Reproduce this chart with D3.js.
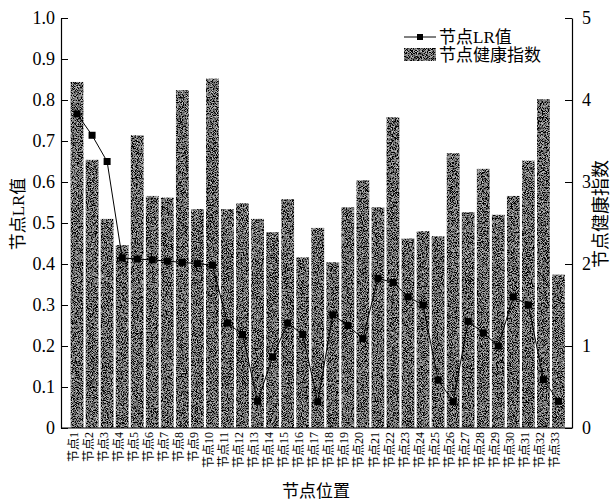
<!DOCTYPE html>
<html>
<head>
<meta charset="utf-8">
<script src="https://cdn.jsdelivr.net/npm/d3@7"></script>
<style>
  html, body { margin: 0; padding: 0; background: #fff; }
  svg { display: block; }
  .lat { font-family: "Liberation Serif", "Noto Sans CJK SC", serif; }
</style>
</head>
<body>
<script>
// Node positions 1..33
const nodes = d3.range(1, 34);
const nodeLabels = nodes.map(n => "节点" + n);

// LR value per node (left axis)
const lrValues = [0.766, 0.714, 0.650, 0.415, 0.412, 0.410, 0.407, 0.404, 0.401, 0.397,
                  0.256, 0.228, 0.065, 0.173, 0.256, 0.228, 0.064, 0.276, 0.250, 0.218,
                  0.365, 0.355, 0.320, 0.300, 0.117, 0.064, 0.260, 0.232, 0.200, 0.320,
                  0.300, 0.118, 0.065];

// Health index per node (right axis)
const healthValues = [4.22, 3.27, 2.55, 2.23, 3.57, 2.83, 2.81, 4.12, 2.67, 4.26,
                      2.67, 2.74, 2.55, 2.39, 2.79, 2.08, 2.44, 2.02, 2.69, 3.02,
                      2.69, 3.79, 2.31, 2.40, 2.34, 3.35, 2.63, 3.16, 2.60, 2.83,
                      3.26, 4.01, 1.87];

const leftTicks = [0, 0.1, 0.2, 0.3, 0.4, 0.5, 0.6, 0.7, 0.8, 0.9, 1.0];
const rightTicks = [0, 1, 2, 3, 4, 5];

const W = 613, H = 502;
const plot = { left: 61, right: 572, top: 18, bottom: 428 };

const svg = d3.select("body").append("svg")
  .attr("width", W).attr("height", H);

// Grainy fill used for the bars and the legend swatch
const defs = svg.append("defs");
const grain = defs.append("filter").attr("id", "grain")
  .attr("x", 0).attr("y", 0).attr("width", 1).attr("height", 1);
grain.append("feTurbulence").attr("type", "fractalNoise")
  .attr("baseFrequency", 1.2).attr("numOctaves", 1).attr("seed", 7).attr("result", "noise");
grain.append("feColorMatrix").attr("in", "noise").attr("type", "matrix")
  .attr("values", "1.9 0 0 0 -0.8  1.9 0 0 0 -0.8  1.9 0 0 0 -0.8  0 0 0 0 1")
  .attr("result", "tone");
grain.append("feComposite").attr("in", "tone").attr("in2", "SourceGraphic").attr("operator", "in");

const x = d3.scaleBand().domain(nodes).range([69.5, 566])
  .paddingInner(0.15).paddingOuter(0.075);
const yL = d3.scaleLinear().domain([0, 1]).range([plot.bottom, plot.top]);
const yR = d3.scaleLinear().domain([0, 5]).range([plot.bottom, plot.top]);

// Bars: health index
svg.append("g").attr("filter", "url(#grain)")
  .selectAll("rect").data(healthValues).join("rect")
  .attr("x", (d, i) => x(nodes[i]))
  .attr("width", x.bandwidth())
  .attr("y", d => yR(d))
  .attr("height", d => yR(0) - yR(d))
  .attr("fill", "#333");

// Left axis (ticks pointing inward)
const fmtL = d => d === 0 ? "0" : d3.format(".1f")(d);
const gL = svg.append("g").attr("transform", `translate(${plot.left},0)`)
  .call(d3.axisLeft(yL).tickValues(leftTicks).tickFormat(fmtL)
    .tickSizeInner(-7).tickSizeOuter(0).tickPadding(6));
// Right axis (ticks pointing inward)
const gR = svg.append("g").attr("transform", `translate(${plot.right},0)`)
  .call(d3.axisRight(yR).tickValues(rightTicks).tickFormat(d3.format("d"))
    .tickSizeInner(-7).tickSizeOuter(0).tickPadding(10));
[gL, gR].forEach(g => {
  g.select(".domain").attr("stroke", "#000").attr("stroke-width", 1.2);
  g.selectAll(".tick line").attr("stroke", "#000").attr("stroke-width", 1);
  g.selectAll(".tick text").attr("class", "lat").attr("font-size", 18).attr("fill", "#000");
});

// Bottom axis with rotated node labels
const gX = svg.append("g").attr("transform", `translate(0,${plot.bottom})`)
  .call(d3.axisBottom(x).tickSize(0).tickFormat((d, i) => nodeLabels[i]));
gX.select(".domain").attr("d", `M${plot.left},0H${plot.right}`)
  .attr("stroke", "#000").attr("stroke-width", 1.2);
gX.selectAll(".tick text")
  .attr("font-family", "'Liberation Serif', 'Noto Sans CJK SC', serif")
  .attr("font-size", 12).attr("fill", "#000")
  .attr("text-anchor", "end")
  .attr("transform", "rotate(-90)")
  .attr("x", -4).attr("y", 0).attr("dy", "0.05em");

// LR line with square markers
const line = d3.line().x((d, i) => x(nodes[i]) + x.bandwidth() / 2).y(d => yL(d));
svg.append("path").datum(lrValues).attr("d", line)
  .attr("fill", "none").attr("stroke", "#000").attr("stroke-width", 1);
svg.append("g").selectAll("rect").data(lrValues).join("rect")
  .attr("x", (d, i) => x(nodes[i]) + x.bandwidth() / 2 - 3.5)
  .attr("y", d => yL(d) - 3.5)
  .attr("width", 7).attr("height", 7).attr("fill", "#000");

// Axis titles
const cjk = "'Liberation Serif', 'Noto Sans CJK SC', serif";
svg.append("text").attr("transform", "translate(24,214) rotate(-90)")
  .attr("text-anchor", "middle").attr("font-family", cjk).attr("font-size", 17)
  .text("节点LR值");
svg.append("text").attr("transform", "translate(607,214) rotate(-90)")
  .attr("text-anchor", "middle").attr("font-family", cjk).attr("font-size", 18)
  .text("节点健康指数");
svg.append("text").attr("x", 316).attr("y", 497)
  .attr("text-anchor", "middle").attr("font-family", cjk).attr("font-size", 17)
  .text("节点位置");

// Legend
const lg = svg.append("g");
lg.append("line").attr("x1", 404).attr("x2", 436).attr("y1", 37).attr("y2", 37)
  .attr("stroke", "#000").attr("stroke-width", 1);
lg.append("rect").attr("x", 417).attr("y", 34).attr("width", 6).attr("height", 6).attr("fill", "#000");
lg.append("text").attr("x", 439).attr("y", 43).attr("font-family", cjk).attr("font-size", 17)
  .text("节点LR值");
lg.append("g").attr("filter", "url(#grain)")
  .append("rect").attr("x", 404).attr("y", 48).attr("width", 32).attr("height", 13).attr("fill", "#333");
lg.append("text").attr("x", 439).attr("y", 61).attr("font-family", cjk).attr("font-size", 17)
  .text("节点健康指数");
</script>
</body>
</html>
